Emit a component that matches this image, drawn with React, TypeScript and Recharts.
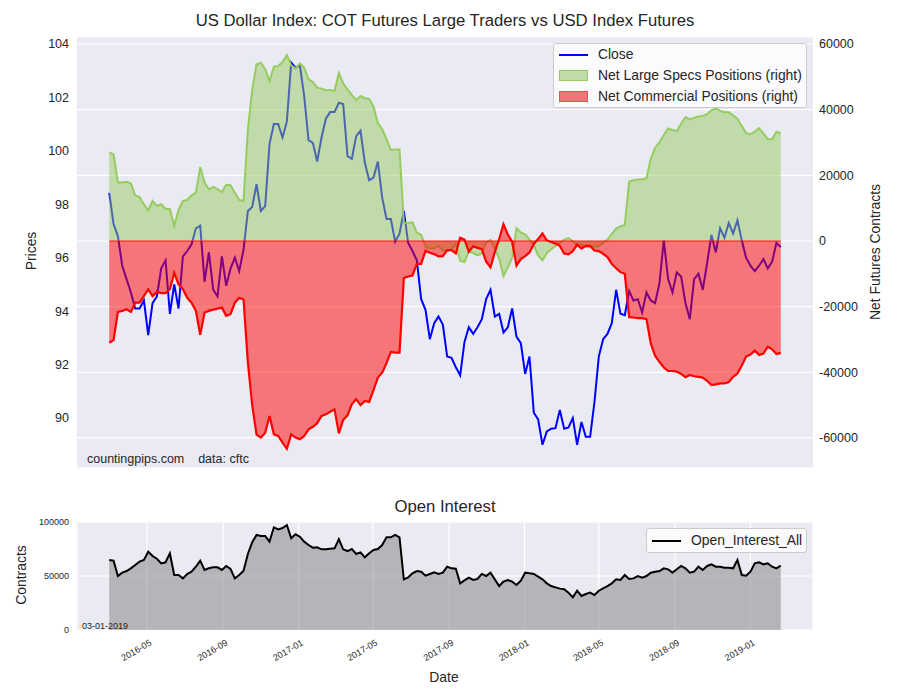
import React from "react";
import { ComposedChart, Line, Area, XAxis, YAxis, CartesianGrid, ReferenceLine } from "recharts";

// weekly COT report dates, first Tuesday of the series
const START_DATE = "2016-03-01";

const close = [
  98.43, 97.26, 96.8, 95.7, 95.2, 94.7, 94.1, 94.1, 94.4, 93.1,
  94.3, 94.55, 95.6, 95.9, 93.9, 95.0, 94.1, 96.05, 96.25, 96.5,
  97.1, 97.2, 95.1, 96.2, 94.8, 94.55, 96.05, 94.95, 95.6, 96.0,
  95.5, 96.3, 97.75, 97.9, 98.75, 97.75, 97.93, 100.26, 101.0, 101.0,
  100.5, 101.1, 103.3, 103.1, 103.2, 102.05, 100.4, 100.3, 99.6, 100.5,
  101.2, 101.45, 101.45, 101.8, 101.75, 99.8, 99.7, 100.55, 100.75, 99.55,
  98.9, 99.0, 99.6, 98.25, 97.45, 97.45, 96.6, 96.9, 97.75, 96.55,
  96.25, 95.9, 94.45, 94.05, 92.95, 93.55, 93.8, 93.5, 92.3, 92.25,
  91.9, 91.6, 92.85, 93.4, 93.15, 93.4, 93.7, 94.45, 94.8, 93.8,
  93.9, 93.2, 93.4, 94.1, 93.05, 92.8, 91.65, 92.3, 90.2, 89.95,
  89.0, 89.5, 89.6, 89.62, 90.3, 89.6, 89.65, 90.0, 89.0, 89.85,
  89.3, 89.3, 90.6, 92.3, 92.95, 93.15, 93.55, 94.8, 93.9, 93.85,
  94.75, 94.4, 94.45, 93.95, 94.7, 94.4, 94.3, 95.05, 96.65, 95.2,
  94.7, 95.45, 95.3, 94.3, 93.7, 95.2, 95.4, 94.8, 95.8, 96.85,
  96.2, 97.1, 96.75, 97.3, 96.9, 97.4, 96.65, 96.0, 95.7, 95.5,
  95.7, 95.95, 95.6, 95.85, 96.55, 96.4,
];

const largeSpecs = [
  26900, 26400, 17800, 17800, 18000, 17500, 13900, 13400, 11200, 9300,
  12200, 10700, 11200, 9800, 9700, 4600, 9400, 12200, 12500, 13900,
  14700, 22500, 17800, 15700, 16500, 15800, 14900, 17100, 17000, 14700,
  12500, 12200, 34000, 46000, 53800, 54300, 52300, 48700, 53100, 53300,
  54500, 56600, 53500, 52500, 54100, 52800, 49200, 48400, 46700, 46400,
  45900, 46000, 45700, 51100, 48000, 46200, 44400, 42900, 44200, 43500,
  43300, 40900, 35900, 34000, 31000, 27700, 27900, 27900, 5600, 5500,
  5700, 2500, 1900, -1800, -2300, -2200, -1500, -2900, -3000, -2700,
  -800, -6000, -6400, -3100, -3700, -4400, -3800, -500, 300, -2400,
  -5400, -10700, -8000, -5200, 3900, 2600, 2000, 500, -1400, -4400,
  -5900, -3700, -2500, -1500, -600, 400, 900, -100, -1500, -1100,
  -1800, -1900, -1600, -1700, -500, 400, 2200, 3800, 4500, 4800,
  18100, 18500, 18700, 18800, 19100, 25000, 28400, 30000, 32300, 34300,
  33800, 33500, 35700, 37700, 37100, 37500, 37900, 38100, 38600, 39800,
  40400, 39700, 39200, 39200, 38300, 37200, 35000, 32800, 32500, 33300,
  34400, 32800, 31000, 31000, 33300, 32800,
];

const commercial = [
  -31000, -30200, -21600, -21300, -20800, -21600, -18800, -18800, -16800, -14700,
  -16800, -15500, -15900, -15900, -14700, -9700, -13200, -14700, -17300, -18800,
  -21300, -28600, -21800, -21300, -20900, -20600, -20300, -22800, -22300, -18800,
  -17300, -17800, -37000, -50000, -59000, -59900, -58400, -53300, -58900, -59400,
  -61400, -63300, -58900, -59900, -60400, -59400, -57400, -56600, -55500, -53300,
  -52800, -52000, -51300, -58600, -54500, -53100, -49700, -48200, -50000, -48700,
  -49000, -45400, -41600, -40100, -37200, -33800, -34000, -34000, -11300, -10800,
  -10500, -7000, -7000, -3000, -3600, -4000, -4700, -4600, -2800, -2800,
  -3800, 1000, 400, -3300, -1600, -2100, -2500, -6300, -8000, -3400,
  600, 5100, 2000, -300, -7500, -5500, -4600, -3500, -900, 600,
  2300, 200, -300, -800, -1500, -3800, -4100, -3100, -1100, -2300,
  -1500, -1500, -2900, -3100, -3900, -4900, -7000, -8300, -9500, -10000,
  -23200, -23300, -23500, -23500, -23800, -31200, -35000, -36800, -38500, -39600,
  -39600, -39800, -40500, -41500, -40800, -41200, -41400, -41600, -42600, -43900,
  -43700, -43400, -43400, -43000, -41400, -40400, -37900, -35200, -34600, -33400,
  -34700, -34300, -32200, -33000, -34400, -34100,
];

const openInterest = [
  64800, 64200, 50000, 53100, 54600, 57100, 60200, 63300, 64800, 72500,
  68500, 66000, 61700, 62700, 71000, 50900, 50900, 47800, 51900, 54000,
  58600, 64200, 55600, 57100, 58000, 58000, 55600, 59300, 56500, 47800,
  50900, 54900, 70400, 81200, 88000, 87000, 87000, 81800, 95100, 93200,
  94400, 97200, 84900, 88600, 86400, 81800, 78700, 76200, 76500, 74700,
  74700, 75300, 75600, 84000, 74700, 73100, 75000, 70400, 71900, 67300,
  71000, 74100, 75000, 78700, 85800, 85800, 88000, 85800, 46900, 48800,
  52500, 54600, 54000, 50300, 51900, 53400, 51900, 53100, 58600, 57100,
  56800, 43200, 46000, 48500, 46300, 47300, 51900, 50000, 53100, 46900,
  40700, 44800, 46300, 44800, 41700, 45700, 53100, 52500, 51900, 49400,
  46900, 43200, 40700, 39500, 38300, 37700, 34600, 30200, 36400, 31500,
  33300, 34600, 32400, 36400, 38600, 40700, 43200, 46900, 46300, 50900,
  47200, 47800, 50000, 48500, 50000, 53100, 54000, 54600, 57100, 56200,
  53100, 56200, 59300, 57100, 53100, 54000, 58600, 55600, 59300, 60800,
  58600, 58600, 57700, 57700, 57100, 64800, 50900, 50300, 54000, 61700,
  62700, 60800, 61700, 58600, 57100, 59600,
];

const priceTicks = [90, 92, 94, 96, 98, 100, 102, 104];
const netTicks = [-60000, -40000, -20000, 0, 20000, 40000, 60000];
const oiTicks = [0, 50000, 100000];
const monthLabels = ["2016-05", "2016-09", "2017-01", "2017-05", "2017-09", "2018-01", "2018-05", "2018-09", "2019-01"];

const WEEK = 7 * 24 * 3600 * 1000;
const t0 = Date.parse(START_DATE);
const rows = close.map((c, i) => ({
  t: t0 + i * WEEK,
  close: c,
  specs: largeSpecs[i],
  comm: commercial[i],
  oi: openInterest[i],
}));
const tFirst = rows[0].t;
const tLast = rows[rows.length - 1].t;
const span = tLast - tFirst;
const xDomain = [tFirst - span * 0.048, tLast + span * 0.048];
const monthTicks = monthLabels.map((m) => Date.parse(m + "-01"));

const FONT = "'Liberation Sans', Arial, 'DejaVu Sans', sans-serif";
const INK = "#262626";
const GREEN = "#96cb60";

function Txt({ x, y, size, rotate = 0, align = "center", children }: any) {
  const tx = align === "center" ? "-50%" : "0";
  return (
    <div
      style={{
        position: "absolute",
        left: x,
        top: y,
        fontSize: size,
        lineHeight: 1,
        whiteSpace: "pre",
        color: INK,
        transform: `translate(${tx}, -50%) rotate(${rotate}deg)`,
      }}
    >
      {children}
    </div>
  );
}

function renderDateTick(props: any) {
  const { x, y, payload } = props;
  const d = new Date(payload.value);
  const label = `${d.getUTCFullYear()}-${String(d.getUTCMonth() + 1).padStart(2, "0")}`;
  return (
    <text
      key={label}
      x={0}
      y={0}
      transform={`translate(${x + 2},${y + 1}) rotate(-30)`}
      textAnchor="end"
      dy="0.72em"
      fontSize={9}
      fill={INK}
      fontFamily={FONT}
    >
      {label}
    </text>
  );
}

const tickStyle = { fill: INK, fontSize: 12.5, fontFamily: FONT };

export default function App() {
  return (
    <div style={{ position: "absolute", left: 0, top: 0, width: 900, height: 700, background: "#fff", fontFamily: FONT }}>
      <Txt x={445} y={21} size={16.7}>US Dollar Index: COT Futures Large Traders vs USD Index Futures</Txt>

      <div style={{ position: "absolute", left: 0, top: 0 }}>
        <ComposedChart width={900} height={480} data={rows} margin={{ top: 37, right: 0, bottom: 12, left: 0 }}>
          <CartesianGrid yAxisId="net" vertical={false} stroke="#ffffff" strokeWidth={1.2} fill="#eaeaf2" />
          <XAxis dataKey="t" type="number" domain={xDomain} hide allowDataOverflow />
          <YAxis
            yAxisId="price"
            orientation="left"
            width={77}
            domain={[88.13, 104.26]}
            ticks={priceTicks}
            allowDataOverflow
            axisLine={false}
            tickLine={false}
            tick={tickStyle}
          />
          <YAxis
            yAxisId="net"
            orientation="right"
            width={87}
            domain={[-69150, 62130]}
            ticks={netTicks}
            allowDataOverflow
            axisLine={false}
            tickLine={false}
            tickMargin={0}
            tick={tickStyle}
          />
          <Line
            yAxisId="price"
            dataKey="close"
            type="linear"
            stroke="#0000ff"
            strokeWidth={2}
            dot={false}
            isAnimationActive={false}
            zIndex={50}
          />
          <Area
            yAxisId="net"
            dataKey="specs"
            type="linear"
            baseValue={0}
            stroke={GREEN}
            strokeWidth={2}
            fill={GREEN}
            fillOpacity={0.5}
            isAnimationActive={false}
          />
          <Area
            yAxisId="net"
            dataKey="comm"
            type="linear"
            baseValue={0}
            stroke="#ff0000"
            strokeWidth={2.2}
            fill="#ff0000"
            fillOpacity={0.5}
            isAnimationActive={false}
          />
          <ReferenceLine
            yAxisId="net"
            segment={[
              { x: tFirst, y: 0 },
              { x: tLast, y: 0 },
            ]}
            stroke="#ff0000"
            strokeOpacity={0.45}
            strokeWidth={2}
          />
        </ComposedChart>
      </div>

      <Txt x={32} y={251} size={13.9} rotate={-90}>Prices</Txt>
      <Txt x={876} y={252} size={13.9} rotate={-90}>Net Futures Contracts</Txt>
      <Txt x={87} y={459} size={12.5} align="left">{"countingpips.com    data: cftc"}</Txt>

      <div
        style={{
          position: "absolute",
          left: 553,
          top: 43,
          width: 254,
          height: 65,
          boxSizing: "border-box",
          border: "1px solid #cccccc",
          borderRadius: 3,
          background: "rgba(255,255,255,0.8)",
        }}
      >
        <div style={{ position: "absolute", left: 5, top: 10, width: 29, height: 2, background: "#0000ff" }} />
        <div style={{ position: "absolute", left: 5, top: 26, width: 29, height: 11, boxSizing: "border-box", background: "#c1dba9", border: `1px solid ${GREEN}` }} />
        <div style={{ position: "absolute", left: 5, top: 47, width: 29, height: 11, boxSizing: "border-box", background: "#f47479", border: "1px solid #f84a4c" }} />
        <Txt x={44} y={11} size={13.9} align="left">Close</Txt>
        <Txt x={44} y={32} size={13.9} align="left">Net Large Specs Positions (right)</Txt>
        <Txt x={44} y={53} size={13.9} align="left">Net Commercial Positions (right)</Txt>
      </div>

      <Txt x={445} y={507} size={16.7}>Open Interest</Txt>

      <div style={{ position: "absolute", left: 0, top: 490 }}>
        <ComposedChart width={900} height={210} data={rows} margin={{ top: 32, right: 87, bottom: 0, left: 0 }}>
          <CartesianGrid stroke="#ffffff" strokeWidth={1.2} fill="#eaeaf2" />
          <XAxis
            dataKey="t"
            type="number"
            domain={xDomain}
            ticks={monthTicks}
            allowDataOverflow
            height={70}
            axisLine={false}
            tickLine={false}
            interval={0}
            tick={renderDateTick}
          />
          <YAxis
            width={77}
            domain={[0, 100000]}
            ticks={oiTicks}
            allowDataOverflow
            axisLine={false}
            tickLine={false}
            tick={{ fill: INK, fontSize: 9, fontFamily: FONT }}
          />
          <Area
            dataKey="oi"
            type="linear"
            baseValue={0}
            stroke="#000000"
            strokeWidth={2}
            fill="#808080"
            fillOpacity={0.5}
            isAnimationActive={false}
          />
        </ComposedChart>
      </div>

      <div
        style={{
          position: "absolute",
          left: 646,
          top: 528,
          width: 161,
          height: 25,
          boxSizing: "border-box",
          border: "1px solid #cccccc",
          borderRadius: 3,
          background: "rgba(255,255,255,0.8)",
        }}
      >
        <div style={{ position: "absolute", left: 5, top: 11, width: 29, height: 2, background: "#000" }} />
        <Txt x={44} y={12} size={13.9} align="left">Open_Interest_All</Txt>
      </div>

      <Txt x={82} y={626} size={9} align="left">03-01-2019</Txt>
      <Txt x={22} y={575} size={13.9} rotate={-90}>Contracts</Txt>
      <Txt x={444} y={678} size={13.9}>Date</Txt>
    </div>
  );
}
